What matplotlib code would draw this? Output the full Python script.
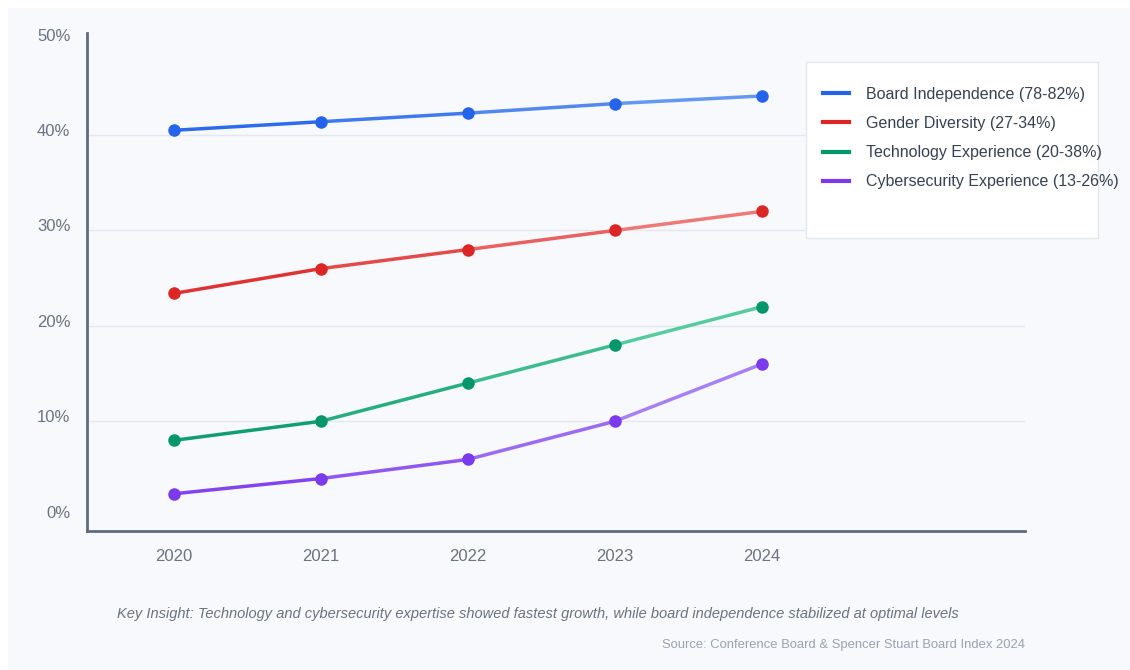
import numpy as np
import matplotlib.pyplot as plt
from matplotlib.collections import LineCollection
from matplotlib.colors import to_rgb
from matplotlib.lines import Line2D
from matplotlib.patches import Rectangle
from matplotlib.transforms import ScaledTranslation

plt.rcParams['font.family'] = ['Liberation Sans', 'DejaVu Sans']

years = [2020, 2021, 2022, 2023, 2024]
board_independence = [40.5, 41.4, 42.3, 43.3, 44.1]
gender_diversity = [23.4, 26.0, 28.0, 30.0, 32.0]
tech_experience = [8.0, 10.0, 14.0, 18.0, 22.0]
cyber_experience = [2.4, 4.0, 6.0, 10.0, 16.0]

series_names = [
    'Board Independence (78-82%)',
    'Gender Diversity (27-34%)',
    'Technology Experience (20-38%)',
    'Cybersecurity Experience (13-26%)',
]
series_values = [board_independence, gender_diversity, tech_experience, cyber_experience]
dark_colors = ['#2563eb', '#dc2626', '#059669', '#7c3aed']
light_colors = ['#6fa0f2', '#f08585', '#62d3a4', '#ae8af6']

y_ticks = [0, 10, 20, 30, 40, 50]

fig = plt.figure(figsize=(11.3, 6.7), dpi=100, facecolor='white')
# light panel behind everything
fig.patches.append(Rectangle((8 / 1130, 0), 1, 1 - 8 / 670, transform=fig.transFigure,
                             facecolor='#f7f9fc', edgecolor='none', zorder=-5))

ax = fig.add_axes([87 / 1130, 139 / 670, 938 / 1130, 498 / 670])
ax.set_facecolor('none')
ax.set_zorder(1)

for vals, dark, light in zip(series_values, dark_colors, light_colors):
    pts = np.column_stack([years, vals])
    segs = [pts[i:i + 2] for i in range(len(pts) - 1)]
    c0, c1 = np.array(to_rgb(dark)), np.array(to_rgb(light))
    cols = [c0 + (c1 - c0) * (i + 0.5) / (len(segs)) for i in range(len(segs))]
    lc = LineCollection(segs, colors=cols, linewidths=2.5, capstyle='round', zorder=3)
    ax.add_collection(lc)
    ax.plot(years, vals, linestyle='none', marker='o', markersize=8,
            color=dark, zorder=4)

ax.set_xlim(2019.41, 2025.79)
ax.set_ylim(-1.5, 50.7)
ax.set_xticks(years)
ax.set_xticklabels([str(y) for y in years])
ax.set_yticks(y_ticks)
ax.set_yticklabels([f'{t}%' for t in y_ticks])
ax.tick_params(axis='both', length=0, labelsize=12, labelcolor='#6b7280')
ax.tick_params(axis='x', pad=13)
ax.tick_params(axis='y', pad=12)
for lbl in ax.get_yticklabels():
    lbl.set_transform(lbl.get_transform() + ScaledTranslation(0, 5 / 100, fig.dpi_scale_trans))

for y in [10, 20, 30, 40]:
    ax.axhline(y, color='#e3e7ee', linewidth=1, zorder=1)

for side in ['top', 'right']:
    ax.spines[side].set_visible(False)
for side in ['left', 'bottom']:
    ax.spines[side].set_color('#5f6b7d')
    ax.spines[side].set_linewidth(2)

# legend box
fig.patches.append(Rectangle((806 / 1130, 1 - 238 / 670), 292 / 1130, 176 / 670,
                             transform=fig.transFigure, facecolor='white',
                             edgecolor='#e3e7ee', linewidth=1, zorder=5))
handles = [Line2D([0], [0], color=c, linewidth=3) for c in dark_colors]
leg = fig.legend(handles, series_names, loc='upper left',
                 bbox_to_anchor=(815 / 1130, 1 - 79 / 670), frameon=False,
                 fontsize=11.5, labelspacing=0.88, handlelength=1.6, handletextpad=1.1,
                 borderpad=0)
leg.set_zorder(6)
for t in leg.get_texts():
    t.set_color('#374151')

fig.text(117 / 1130, 1 - 614 / 670,
         'Key Insight: Technology and cybersecurity expertise showed fastest growth, '
         'while board independence stabilized at optimal levels',
         fontsize=10.5, style='italic', color='#6b7280', va='center', ha='left')
fig.text(1025 / 1130, 1 - 645 / 670,
         'Source: Conference Board & Spencer Stuart Board Index 2024',
         fontsize=9.4, color='#9ca3af', va='center', ha='right')

fig.savefig('out.png', dpi=100, facecolor=fig.get_facecolor())
